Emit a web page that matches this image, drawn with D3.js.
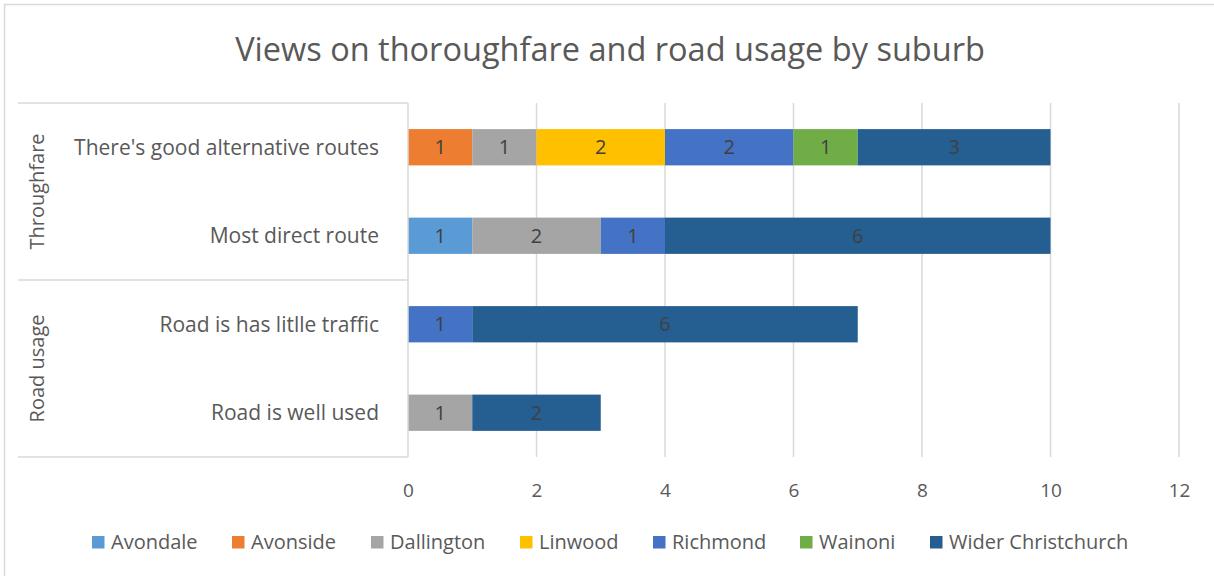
<!DOCTYPE html>
<html>
<head>
<meta charset="utf-8">
<script src="https://cdn.jsdelivr.net/npm/d3@7"></script>
<style>
  body { margin: 0; background: #fff; }
  text { font-family: "Open Sans", sans-serif; }
</style>
</head>
<body>
<div id="chart"></div>
<script>
// chart data
const categories = ["There's good alternative routes", "Most direct route", "Road is has litlle traffic", "Road is well used"];
const groups = [
    {name: "Throughfare", items: ["There's good alternative routes", "Most direct route"]},
    {name: "Road usage", items: ["Road is has litlle traffic", "Road is well used"]}
];
const suburbs = ["Avondale", "Avonside", "Dallington", "Linwood", "Richmond", "Wainoni", "Wider Christchurch"];
const colors = ["#5B9BD5", "#ED7D31", "#A5A5A5", "#FFC000", "#4472C4", "#70AD47", "#255E91"];
// values per suburb, in the order of categories
const avondale = [0, 1, 0, 0];
const avonside = [1, 0, 0, 0];
const dallington = [1, 2, 0, 1];
const linwood = [2, 0, 0, 0];
const richmond = [2, 1, 1, 0];
const wainoni = [1, 0, 0, 0];
const widerChristchurch = [3, 6, 6, 2];
const xTicks = [0, 2, 4, 6, 8, 10, 12];

const seriesValues = [avondale, avonside, dallington, linwood, richmond, wainoni, widerChristchurch];

const width = 1214, height = 576;
const margin = {top: 103, right: 35, bottom: 119, left: 408};

const svg = d3.select("#chart")
    .append("svg")
    .attr("width", width)
    .attr("height", height);

// chart frame
svg.append("rect")
    .attr("x", 4.5).attr("y", 4.5)
    .attr("width", width + 20).attr("height", height + 20)
    .attr("fill", "none")
    .attr("stroke", "#D9D9D9")
    .attr("stroke-width", 1.5);

// title
svg.append("text")
    .attr("x", 610).attr("y", 61)
    .attr("text-anchor", "middle")
    .attr("font-size", 32.5)
    .attr("fill", "#595959")
    .text("Views on thoroughfare and road usage by suburb");

const x = d3.scaleLinear()
    .domain([0, 12])
    .range([margin.left, width - margin.right]);

const y = d3.scaleBand()
    .domain(categories)
    .range([margin.top, height - margin.bottom])
    .paddingInner(0.59)
    .paddingOuter(0.295);

// gridlines
svg.append("g")
    .selectAll("line")
    .data(xTicks.filter(d => d > 0))
    .enter()
    .append("line")
    .attr("x1", d => x(d)).attr("x2", d => x(d))
    .attr("y1", margin.top).attr("y2", height - margin.bottom)
    .attr("stroke", "#D9D9D9")
    .attr("stroke-width", 1.5);

// x axis labels
const xAxis = svg.append("g")
    .attr("transform", `translate(0,${height - margin.bottom + 26})`)
    .call(d3.axisBottom(x).tickValues(xTicks).tickSize(0).tickPadding(0));
xAxis.select(".domain").remove();
xAxis.selectAll("text")
    .attr("font-size", 19)
    .attr("fill", "#595959")
    .attr("font-family", "Open Sans, sans-serif");

// stacked data
const table = categories.map((c, i) => {
    const row = {category: c};
    suburbs.forEach((s, j) => row[s] = seriesValues[j][i]);
    return row;
});
const stacked = d3.stack().keys(suburbs)(table);

const layer = svg.append("g")
    .selectAll("g")
    .data(stacked)
    .enter()
    .append("g")
    .attr("fill", (d, i) => colors[i]);

layer.selectAll("rect")
    .data(d => d.filter(p => p[1] - p[0] > 0))
    .enter()
    .append("rect")
    .attr("x", d => x(d[0]))
    .attr("y", d => y(d.data.category))
    .attr("width", d => x(d[1]) - x(d[0]))
    .attr("height", y.bandwidth());

layer.selectAll("text")
    .data(d => d.filter(p => p[1] - p[0] > 0))
    .enter()
    .append("text")
    .attr("x", d => (x(d[0]) + x(d[1])) / 2)
    .attr("y", d => y(d.data.category) + y.bandwidth() / 2)
    .attr("dy", "0.36em")
    .attr("text-anchor", "middle")
    .attr("font-size", 20)
    .attr("fill", "#404040")
    .text(d => d[1] - d[0]);

// vertical axis line
svg.append("line")
    .attr("x1", margin.left).attr("x2", margin.left)
    .attr("y1", margin.top).attr("y2", height - margin.bottom)
    .attr("stroke", "#D9D9D9")
    .attr("stroke-width", 1.5);

// category labels
svg.append("g")
    .selectAll("text")
    .data(categories)
    .enter()
    .append("text")
    .attr("x", 379)
    .attr("y", d => y(d) + y.bandwidth() / 2)
    .attr("dy", "0.36em")
    .attr("text-anchor", "end")
    .attr("font-size", 21)
    .attr("fill", "#595959")
    .text(d => d);

// group separators and labels
const step = y.step();
const groupBounds = groups.map(g => {
    const top = y(g.items[0]) - y.paddingOuter() * step;
    const bottom = y(g.items[g.items.length - 1]) + y.bandwidth() + y.paddingOuter() * step;
    return {name: g.name, top: top, bottom: bottom};
});
const sepYs = [margin.top].concat(groupBounds.map(g => g.bottom));
svg.append("g")
    .selectAll("line")
    .data(sepYs)
    .enter()
    .append("line")
    .attr("x1", 18).attr("x2", margin.left)
    .attr("y1", d => d).attr("y2", d => d)
    .attr("stroke", "#D9D9D9")
    .attr("stroke-width", 1.5);

svg.append("g")
    .selectAll("text")
    .data(groupBounds)
    .enter()
    .append("text")
    .attr("transform", d => `translate(37,${(d.top + d.bottom) / 2}) rotate(-90)`)
    .attr("dy", "0.36em")
    .attr("text-anchor", "middle")
    .attr("font-size", 20)
    .attr("fill", "#595959")
    .text(d => d.name);

// legend
const legendX = [92, 232, 371, 520, 653, 800, 930];
const legend = svg.append("g")
    .selectAll("g")
    .data(suburbs)
    .enter()
    .append("g")
    .attr("transform", (d, i) => `translate(${legendX[i]},542)`);
legend.append("rect")
    .attr("x", 0).attr("y", -6)
    .attr("width", 12.5).attr("height", 12.5)
    .attr("fill", (d, i) => colors[i]);
legend.append("text")
    .attr("x", 19)
    .attr("dy", "0.36em")
    .attr("font-size", 20)
    .attr("fill", "#595959")
    .text(d => d);
</script>
</body>
</html>
